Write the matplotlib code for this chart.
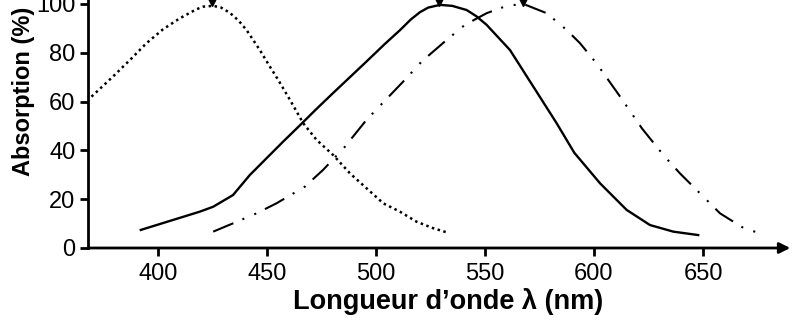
import matplotlib
matplotlib.use('Agg')
import matplotlib.pyplot as plt

plt.rcParams['font.family'] = ['Liberation Sans', 'DejaVu Sans']

# courbe en pointillés (cônes S)
s_wl = [369.6, 379.4, 387.2, 394.8, 402.4, 410.1, 417.7, 421.0, 425.4, 429.0,
        433.0, 437.0, 440.7, 446.8, 451.4, 455.2, 460.6, 466.7, 472.8, 480.4,
        488.1, 495.7, 503.4, 511.0, 518.6, 526.0, 532.9]
s_abs = [62.0, 70.2, 77.0, 83.9, 89.6, 94.1, 97.8, 98.9, 99.2, 98.5,
         96.4, 93.2, 89.3, 81.1, 74.3, 68.9, 60.7, 51.1, 44.3, 38.1,
         30.6, 24.5, 18.3, 14.9, 10.8, 8.2, 6.3]

# courbe continue (cônes M)
m_wl = [392.2, 419.3, 425.4, 434.5, 442.2, 449.9, 457.5, 465.1, 472.8, 480.4,
        495.7, 504.0, 511.0, 516.0, 520.2, 524.0, 529.4, 535.0, 541.6, 546.0,
        550.8, 561.5, 572.2, 582.9, 591.0, 602.8, 615.0, 625.7, 636.4, 647.8]
m_abs = [7.4, 14.9, 16.9, 21.7, 29.9, 36.8, 43.6, 50.2, 57.0, 63.5,
         76.4, 83.5, 89.2, 93.6, 96.6, 98.5, 99.6, 99.2, 97.5, 95.0,
         91.4, 81.1, 66.1, 51.1, 39.0, 26.5, 15.6, 9.4, 6.7, 5.3]

# courbe tiret-point-point (cônes L)
l_wl = [425.4, 434.5, 445.3, 454.4, 467.4, 475.8, 485.8, 495.7, 503.0, 513.3,
        521.0, 532.4, 540.8, 550.8, 560.0, 567.6, 578.3, 587.5, 593.6, 601.2,
        612.0, 622.0, 631.8, 639.4, 649.4, 657.8, 670.0, 676.1]
l_abs = [6.7, 10.1, 14.2, 18.3, 25.1, 32.0, 41.5, 52.5, 59.3, 68.9,
         76.4, 85.2, 91.4, 96.2, 99.2, 100.0, 96.2, 89.3, 83.9, 75.6,
         62.0, 49.0, 38.1, 30.6, 21.7, 14.2, 7.4, 6.3]

peak_wl = [425.0, 529.0, 567.5]

x_ticks = [400, 450, 500, 550, 600, 650]
y_ticks = [0, 20, 40, 60, 80, 100]

fig = plt.figure(figsize=(8, 3.2), dpi=100)
ax = fig.add_axes([0.11, 0.225, 0.8778, 0.775])

ax.plot(s_wl, s_abs, color='black', lw=1.8, linestyle=(0, (1, 1.4)))
ax.plot(m_wl, m_abs, color='black', lw=1.7, linestyle='-')
ax.plot(l_wl, l_abs, color='black', lw=1.5,
        linestyle=(0, (10.5, 4.7, 1, 5.2, 1, 4.7)))

# petites flèches au-dessus des maximums
ax.plot(peak_wl, [100.6] * len(peak_wl), linestyle='none', marker='v',
        color='black', markersize=5.5, clip_on=False)

ax.set_xlim(368, 690)
ax.set_ylim(0, 101.6)

ax.spines['top'].set_visible(False)
ax.spines['right'].set_visible(False)
ax.spines['bottom'].set_visible(False)
ax.spines['left'].set_linewidth(2)

ax.annotate('', xy=(1.0, 0), xytext=(0, 0), xycoords='axes fraction',
            arrowprops=dict(arrowstyle='-|>', lw=2, color='black',
                            mutation_scale=16, shrinkA=0, shrinkB=0))

ax.set_xticks(x_ticks)
ax.set_yticks(y_ticks)
ax.tick_params(axis='x', direction='out', length=6, width=2, pad=5, labelsize=17)
ax.tick_params(axis='y', direction='out', length=6, width=2, pad=3, labelsize=17)

ax.set_xlabel('Longueur d\u2019onde \u03bb (nm)', fontsize=19.5, fontweight='bold')
ax.xaxis.set_label_coords(0.513, -0.16)
ax.set_ylabel('Absorption (%)', fontsize=17, fontweight='bold')
ax.yaxis.set_label_coords(-0.075, 0.63)

fig.savefig('out.png', dpi=100)
